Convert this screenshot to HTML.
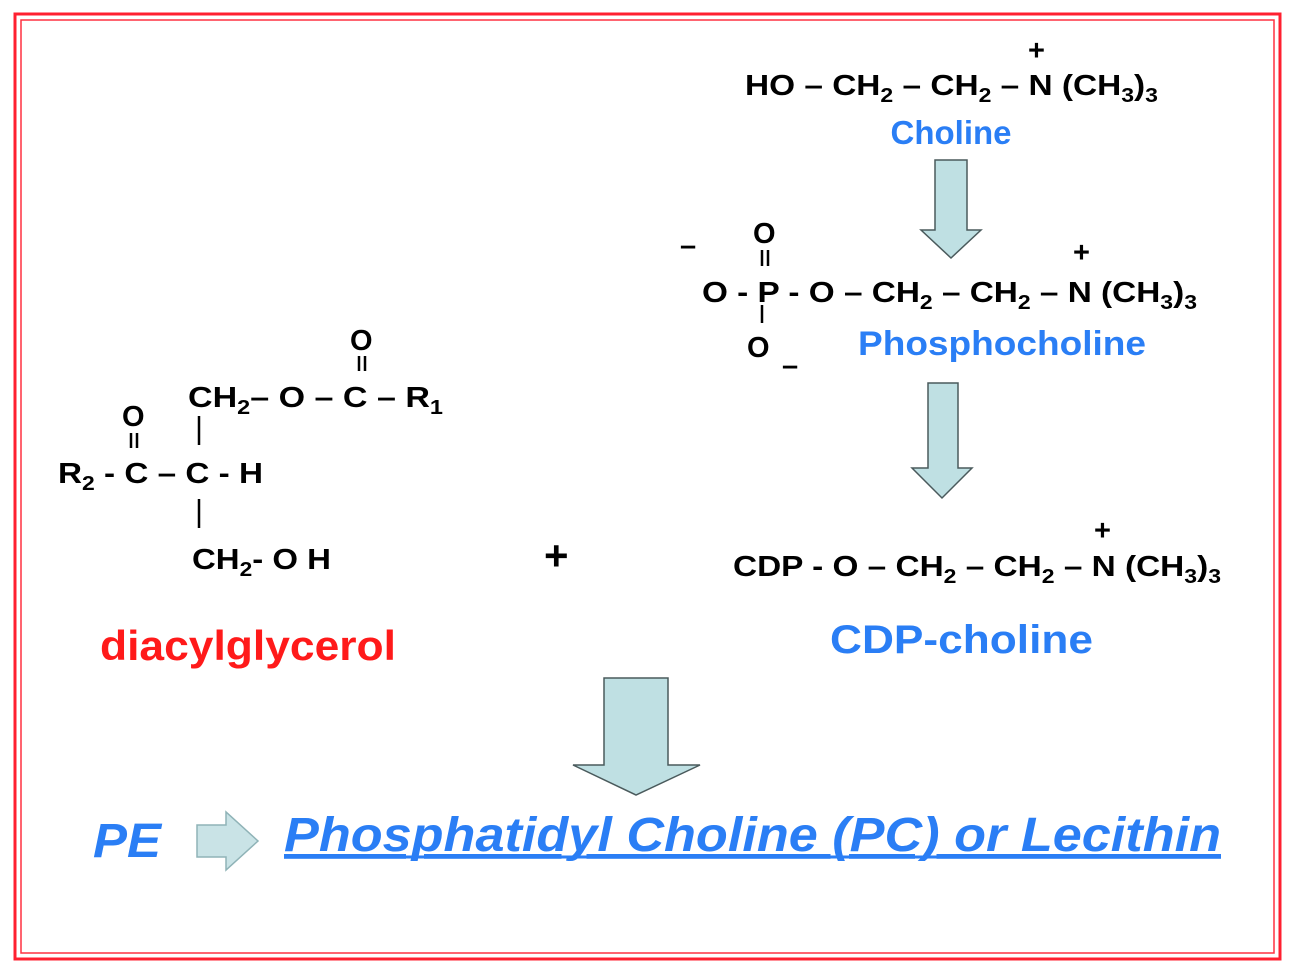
<!DOCTYPE html>
<html><head><meta charset="utf-8"><style>
html,body{margin:0;padding:0;background:#fff}
svg{display:block}
text{font-family:"Liberation Sans",Arial,sans-serif;font-weight:bold}
</style></head><body>
<svg width="1294" height="974" viewBox="0 0 1294 974" xmlns="http://www.w3.org/2000/svg">
<rect x="15" y="14" width="1265" height="945" fill="none" stroke="#ff2030" stroke-width="3"/>
<rect x="21" y="20" width="1253" height="933" fill="none" stroke="#ff3040" stroke-width="1.5"/>

<g font-size="29" fill="#000">
<!-- choline -->
<text x="745" y="95" textLength="413" lengthAdjust="spacingAndGlyphs">HO – CH<tspan font-size="20" dy="7">2</tspan><tspan dy="-7"> – CH</tspan><tspan font-size="20" dy="7">2</tspan><tspan dy="-7"> – N (CH</tspan><tspan font-size="20" dy="7">3</tspan><tspan dy="-7">)</tspan><tspan font-size="20" dy="7">3</tspan></text>
<text x="1028" y="60">+</text>

<!-- phosphocholine -->
<text x="702" y="302" textLength="495" lengthAdjust="spacingAndGlyphs">O - P - O – CH<tspan font-size="20" dy="7">2</tspan><tspan dy="-7"> – CH</tspan><tspan font-size="20" dy="7">2</tspan><tspan dy="-7"> – N (CH</tspan><tspan font-size="20" dy="7">3</tspan><tspan dy="-7">)</tspan><tspan font-size="20" dy="7">3</tspan></text>
<text x="753" y="243">O</text>
<text x="747" y="357">O</text>
<text x="1073" y="262">+</text>
<text x="680" y="255">–</text>
<text x="782" y="375">–</text>

<!-- CDP -->
<text x="733" y="576" textLength="488" lengthAdjust="spacingAndGlyphs">CDP - O – CH<tspan font-size="20" dy="7">2</tspan><tspan dy="-7"> – CH</tspan><tspan font-size="20" dy="7">2</tspan><tspan dy="-7"> – N (CH</tspan><tspan font-size="20" dy="7">3</tspan><tspan dy="-7">)</tspan><tspan font-size="20" dy="7">3</tspan></text>
<text x="1094" y="540">+</text>

<!-- diacylglycerol structure -->
<text x="188" y="407" textLength="255" lengthAdjust="spacingAndGlyphs">CH<tspan font-size="20" dy="7">2</tspan><tspan dy="-7">– O – C – R</tspan><tspan font-size="20" dy="7">1</tspan></text>
<text x="350" y="350">O</text>
<text x="122" y="426">O</text>
<text x="58" y="483" textLength="205" lengthAdjust="spacingAndGlyphs">R<tspan font-size="20" dy="7">2</tspan><tspan dy="-7"> - C – C - H</tspan></text>
<text x="192" y="569" textLength="139" lengthAdjust="spacingAndGlyphs">CH<tspan font-size="20" dy="7">2</tspan><tspan dy="-7">- O H</tspan></text>
<text x="544" y="570" font-size="42">+</text>
</g>
<g stroke="#000" stroke-width="2.5">
<line x1="762" y1="250" x2="762" y2="266"/><line x1="768" y1="250" x2="768" y2="266"/>
<line x1="762" y1="305" x2="762" y2="323"/>
<line x1="359" y1="356" x2="359" y2="371"/><line x1="365" y1="356" x2="365" y2="371"/>
<line x1="131" y1="433" x2="131" y2="448"/><line x1="137" y1="433" x2="137" y2="448"/>
<line x1="199" y1="416" x2="199" y2="445"/>
<line x1="199" y1="499" x2="199" y2="528"/>
</g>

<g fill="#2a7ef5">
<text x="951" y="144" font-size="33" text-anchor="middle">Choline</text>
<text x="858" y="355" font-size="34" textLength="288" lengthAdjust="spacingAndGlyphs">Phosphocholine</text>
<text x="830" y="653" font-size="40" textLength="263" lengthAdjust="spacingAndGlyphs">CDP-choline</text>
<text x="93" y="857" font-size="48" font-style="italic" textLength="68" lengthAdjust="spacingAndGlyphs">PE</text>
<text x="284" y="851" font-size="48" font-style="italic" text-decoration="underline" textLength="937" lengthAdjust="spacingAndGlyphs">Phosphatidyl Choline (PC) or Lecithin</text>
</g>
<line x1="284" y1="857" x2="1221" y2="857" stroke="#2a7ef5" stroke-width="3"/>
<text x="100" y="660" font-size="42" fill="#ff1a1a" textLength="296" lengthAdjust="spacingAndGlyphs">diacylglycerol</text>

<g fill="#bfe0e3" stroke="#4a5a5c" stroke-width="1.5">
<polygon points="935,160 967,160 967,230 981,230 951,258 921,230 935,230"/>
<polygon points="928,383 958,383 958,468 972,468 942,498 912,468 928,468"/>
<polygon points="604,678 668,678 668,765 700,765 636,795 573,765 604,765"/>
<polygon points="197,825 226,825 226,812 258,841 226,870 226,857 197,857" fill="#c9e3e6" stroke="#8fb3b7"/>
</g>
</svg>
</body></html>
